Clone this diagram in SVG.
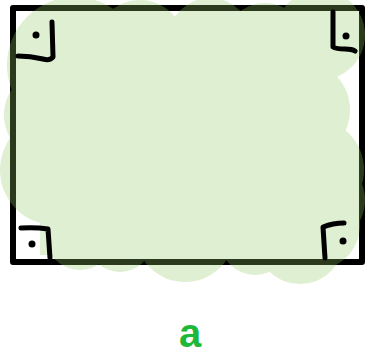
<svg xmlns="http://www.w3.org/2000/svg" width="366" height="356" viewBox="0 0 366 356">
<style>
.tick{fill:none;stroke:#000;stroke-width:5;stroke-linecap:round;stroke-linejoin:round}
.dot{fill:#000}
.cloud circle,.cloud rect{fill:#93c966}
</style>
<rect width="366" height="356" fill="#fff"/>
<g id="rectangle">
<rect x="13" y="8" width="349" height="254" fill="none" stroke="#000" stroke-width="6" stroke-linejoin="round"/>
</g>
<g id="cloud" class="cloud" opacity="0.29">
<rect x="40" y="30" width="290" height="225"/>
<circle cx="75" cy="65" r="68"/>
<circle cx="50" cy="115" r="46"/>
<circle cx="55" cy="170" r="55"/>
<circle cx="140" cy="45" r="45"/>
<circle cx="210" cy="40" r="42"/>
<circle cx="265" cy="45" r="42"/>
<circle cx="320" cy="35" r="45"/>
<circle cx="300" cy="110" r="50"/>
<circle cx="312" cy="170" r="52"/>
<circle cx="320" cy="200" r="45"/>
<circle cx="315" cy="225" r="45"/>
<circle cx="300" cy="240" r="44"/>
<circle cx="255" cy="240" r="35"/>
<circle cx="185" cy="232" r="50"/>
<circle cx="120" cy="240" r="32"/>
<circle cx="80" cy="235" r="35"/>
</g>
<g id="corner-tl">
<path class="tick" d="M52,22 L53,57 Q50,61 43,59 Q30,56 18,56"/>
<circle class="dot" cx="36" cy="35" r="3.5"/>
</g>
<g id="corner-tr">
<path class="tick" d="M333,12 L333,47 Q336,49 345,49 Q352,49 355,51"/>
<circle class="dot" cx="346" cy="36" r="3.5"/>
</g>
<g id="corner-bl">
<path class="tick" d="M21,228 Q35,227 48,229 L50,258"/>
<circle class="dot" cx="32" cy="244" r="3.5"/>
</g>
<g id="corner-br">
<path class="tick" d="M344,223 Q333,223 323,227 L325,258"/>
<circle class="dot" cx="343" cy="241" r="3.5"/>
</g>
<g id="label">
<text x="190" y="347" font-family="Liberation Sans, sans-serif" font-size="40" font-weight="bold" fill="#1db83a" text-anchor="middle">a</text>
</g>
</svg>
